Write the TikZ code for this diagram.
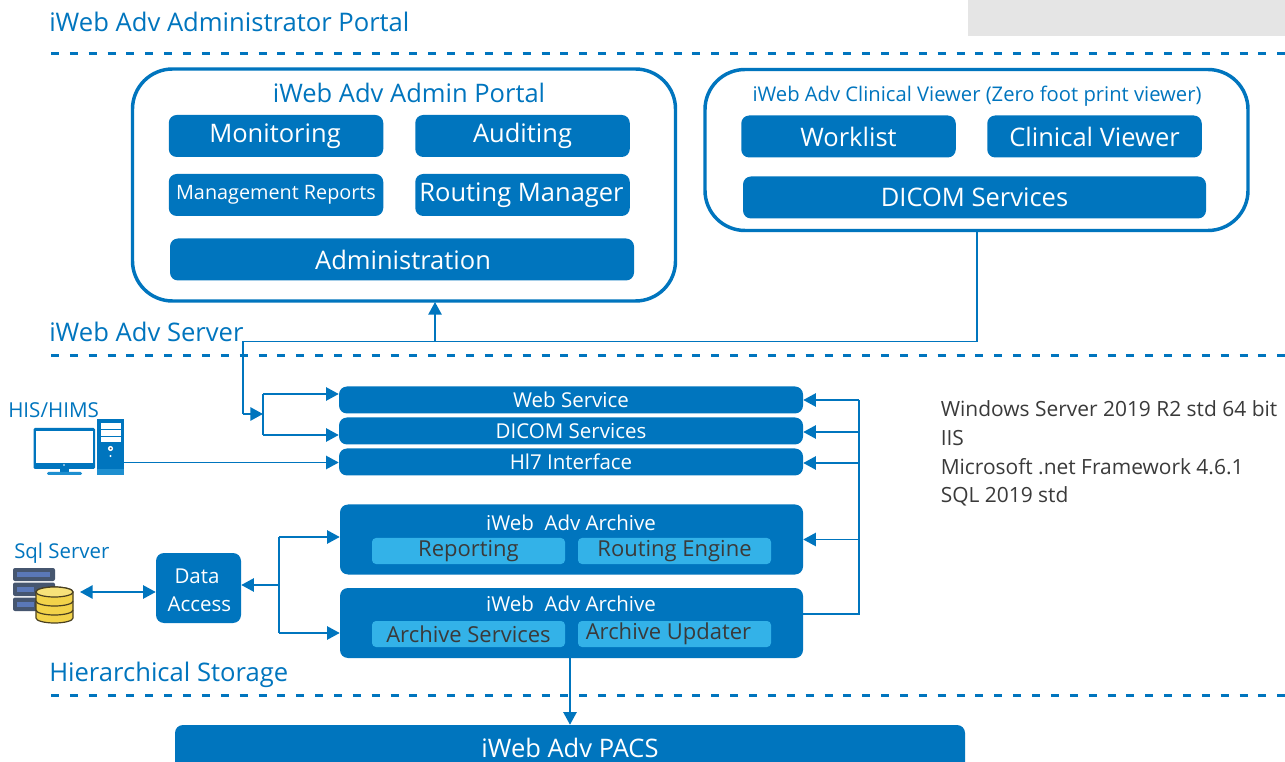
\documentclass[tikz,border=0pt]{standalone}
\usepackage{fontspec}
\setmainfont{Open Sans}
\usetikzlibrary{arrows.meta,positioning,calc}
\definecolor{mainblue}{HTML}{0075BE}
\definecolor{lightblue}{HTML}{33B2E8}
\definecolor{graytext}{HTML}{3A3A3A}
\definecolor{rackdark}{HTML}{46566F}
\definecolor{rackblue}{HTML}{5A78B8}
\definecolor{dbgold}{HTML}{F2D34A}
\definecolor{dblight}{HTML}{F7E27A}
\definecolor{dbedge}{HTML}{4A4020}
\definecolor{standblue}{HTML}{1E8FD0}
\newcommand{\px}[1]{\fontsize{\fpeval{#1*0.75}}{\fpeval{#1*0.9}}\selectfont}
\newcommand{\dn}[1]{\raisebox{-0.75pt}{#1}}
\tikzset{
  x=0.75pt,y=-0.75pt,
  bluebox/.style={fill=mainblue,rounded corners=6pt,text=white,inner sep=0pt,align=center,anchor=center},
  subbox/.style={fill=lightblue,rounded corners=3pt,text=graytext,inner sep=0pt,align=center},
  panel/.style={draw=mainblue,line width=2.6pt,fill=white,rounded corners=30pt},
  heading/.style={text=mainblue,anchor=west,inner sep=0pt},
  sepline/.style={draw=mainblue,line width=2.6pt,dash pattern=on 6pt off 8.15pt},
  link/.style={draw=mainblue,line width=1.25pt},
  arr/.style={link,-{Triangle[length=9.5pt,width=10pt]}},
  darr/.style={link,{Triangle[length=9.5pt,width=10pt]}-{Triangle[length=9.5pt,width=10pt]}},
  rack/.style={fill=rackdark,rounded corners=1.5pt},
  slot/.style={fill=rackblue},
  dbline/.style={draw=dbedge,line width=.9pt},
}
\newcommand{\boxat}[8]{\node[#1,minimum width=#5*0.75pt,minimum height=#6*0.75pt] (#2) at (#3,#4) {\px{#7}#8};}
\begin{document}
\begin{tikzpicture}
\useasboundingbox (0,0) rectangle (1285,762);
\fill[fill=white] (0,0) rectangle (1285,762);
\fill[fill=black!10] (968,0) rectangle (1285,36);
% headings
\node[heading] (h1) at (49,22) {\px{25.6}iWeb Adv Administrator Portal};
\node[heading] (h2) at (49,332) {\px{25.6}iWeb Adv Server};
\node[heading] (h3) at (49,675) {\px{25.6}Hierarchical Storage};
\coordinate (s1a) at (51,53.3); \coordinate (s1b) at (1285,53.3);
\coordinate (s2a) at (51,355.3); \coordinate (s2b) at (1285,355.3);
\coordinate (s3a) at (51,695.3); \coordinate (s3b) at (1285,695.3);
\draw[sepline] (s1a)--(s1b);
\draw[sepline] (s2a)--(s2b);
\draw[sepline] (s3a)--(s3b);
% panels
\node[panel,minimum width=543*0.75pt,minimum height=232*0.75pt,inner sep=0pt] (adminp) at (404,185) {};
\node[panel,minimum width=543*0.75pt,minimum height=161*0.75pt,inner sep=0pt] (clinp) at (976.5,150) {};
\node[text=mainblue,inner sep=0pt] (adminT) at (409,93) {\px{25.5}iWeb Adv Admin Portal};
\node[text=mainblue,inner sep=0pt] (clinT) at (977,96.5) {\px{20.2}iWeb Adv Clinical Viewer (Zero foot print viewer)};
\boxat{bluebox}{mon}{276}{136}{214.5}{42}{25.5}{\kern-1.5pt\dn{Monitoring}}
\boxat{bluebox}{aud}{522.5}{136}{214.5}{42}{25.5}{\dn{Auditing}}
\boxat{bluebox}{mgr}{276}{195}{214.5}{42}{19.8}{\dn{Management Reports}}
\boxat{bluebox}{rtm}{522.5}{195}{214.5}{42}{25.5}{\kern-1.5pt\dn{Routing Manager}}
\boxat{bluebox}{adm}{402}{259.5}{464}{42}{25.5}{\kern1.5pt Administration}
\boxat{bluebox}{wl}{848.5}{136.5}{214.5}{42}{25.5}{Worklist}
\boxat{bluebox}{cv}{1094.5}{136.5}{214.5}{42}{25.5}{Clinical Viewer}
\boxat{bluebox}{dcm}{974.5}{197.5}{463}{42}{25.5}{\dn{DICOM Services}}
% server column
\boxat{bluebox}{ws}{571}{400}{464}{27}{20.5}{Web Service}
\boxat{bluebox}{ds}{571}{431}{464}{27}{20.5}{DICOM Services}
\boxat{bluebox}{hl}{571}{462}{464}{27}{20.5}{Hl7 Interface}
\boxat{bluebox}{ar1}{571.5}{539.5}{463}{70}{20}{}
\boxat{bluebox}{ar2}{571.5}{623}{463}{70}{20}{}
\node[text=white,inner sep=0pt] (ar1T) at (571,523) {\px{20.5}iWeb\ \ Adv Archive};
\node[text=white,inner sep=0pt] (ar2T) at (571,604) {\px{20.5}iWeb\ \ Adv Archive};
\boxat{subbox}{rep}{468.5}{551}{193}{26}{22}{\dn{\dn{Reporting}}}
\boxat{subbox}{rte}{674.5}{551}{193}{26}{22}{\dn{\dn{Routing Engine}}}
\boxat{subbox}{asv}{468.5}{634}{193}{26}{22}{Archive Services}
\node[subbox,minimum width=193*0.75pt,minimum height=26*0.75pt] (aup) at (674.5,634) {};
\node[text=graytext,inner sep=0pt] (aupT) at (668.5,634) {\px{22}Archive Updater};
\node[bluebox,font=\px{20.5},minimum width=85*0.75pt,minimum height=70*0.75pt] (da) at (198.5,588) {};
\node[text=white,inner sep=0pt] (daT1) at (197,576) {\px{20.5}Data};
\node[text=white,inner sep=0pt] (daT2) at (199.5,604) {\px{20.5}Access};
\node[bluebox,minimum width=790*0.75pt,minimum height=60*0.75pt] (pacs) at (570,755) {};
\node[text=white,inner sep=0pt] (pacsT) at (570,748) {\px{25.5}iWeb Adv PACS};
% text block
\node[text=graytext,anchor=north west,align=left,inner sep=0pt,font=\fontsize{15.7}{21.5}\selectfont] (info) at (940.5,400.5) {Windows Server 2019 R2 std 64 bit\\IIS\\Microsoft .net Framework 4.6.1\\SQL 2019 std};
\node[heading] (hisT) at (8,410) {\px{20.6}HIS/HIMS};
\node[heading] (sqlT) at (14,553) {\px{20.4}Sql Server};
% computer icon
\fill[mainblue,rounded corners=1pt] (33.5,428) rectangle (95,469);
\fill[white] (36,431) rectangle (93,463);
\fill[white] (64,465) circle (0.9);
\fill[mainblue] (60,469) rectangle (69,472);
\fill[standblue,rounded corners=1pt] (47,472) rectangle (82,475);
\fill[mainblue] (97,419) rectangle (124,469);
\fill[standblue] (97,469) rectangle (124,475);
\fill[white] (101,423) rectangle (120.5,429);
\fill[white] (101,430.5) rectangle (120.5,436);
\fill[white] (101,437.5) rectangle (120.5,442);
\fill[white] (110.5,448.5) circle (2.6);
\fill[black!70] (110.5,448.5) circle (1);
\fill[white] (110.5,456) circle (1.2);
\coordinate (pc) at (124,462.5);
% db icon
\fill[rack] (13,568) rectangle (55,581);
\fill[rack] (13,582.5) rectangle (55,596);
\fill[rack] (13,597.5) rectangle (55,611);
\fill[slot] (17,572) rectangle (50,577);
\fill[slot] (17,587) rectangle (34,592);
\fill[slot] (17,602) rectangle (34,607);
\fill[dbgold,dbline] (36,592) arc[start angle=180,end angle=360,x radius=18.5,y radius=5] -- (73,618) arc[start angle=0,end angle=-180,x radius=18.5,y radius=-5] -- cycle;
\fill[dblight,dbline] (54.5,592) ellipse[x radius=18.5,y radius=5];
\draw[dbline] (36,601) arc[start angle=180,end angle=360,x radius=18.5,y radius=-5];
\draw[dbline] (36,610) arc[start angle=180,end angle=360,x radius=18.5,y radius=-5];
\coordinate (dbr) at (80,592);
% connectors
\coordinate (clinB) at (977,231);
\draw[link] (clinB) |- (243,341.5) coordinate (jt) -- (243,414) coordinate (ja);
\draw[arr] (435,341.5) -- (435,302);
\draw[arr] (243,414) -- (263,414);
\draw[link] (263,394) -- (263,435);
\draw[arr] (263,394) -- (ws.west |- 0,394);
\draw[arr] (263,435) -- (ds.west |- 0,435);
\draw[arr] (pc) -- (hl.west |- pc);
% right bus
\draw[link] (ar2.east |- 0,614) -- (859,614) -- (859,400) coordinate (bt);
\draw[arr] (bt) -- (ws.east |- bt);
\draw[arr] (859,432) -- (ds.east |- 0,432);
\draw[arr] (859,463) -- (hl.east |- 0,463);
\draw[arr] (859,539.5) -- (ar1.east |- 0,539.5);
% data access
\draw[darr] (dbr) -- (da.west |- dbr);
\draw[arr] (279,585) -- (da.east |- 0,585);
\draw[link] (279,537) -- (279,633);
\draw[arr] (279,537) -- (ar1.west |- 0,537);
\draw[arr] (279,633) -- (ar2.west |- 0,633);
\draw[arr] (ar2.south -| 570,0) -- (pacs.north -| 570,0);
\end{tikzpicture}
\end{document}
